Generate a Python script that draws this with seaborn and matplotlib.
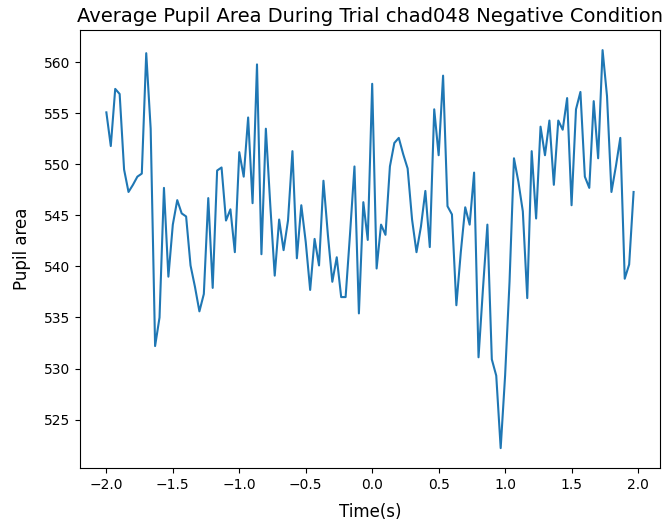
import numpy as np
import pandas as pd
import matplotlib
matplotlib.use("Agg")
import matplotlib.pyplot as plt
import seaborn as sns

# Time axis: 30 Hz samples from -2.0 s
n_samples = 120
time_s = -2.0 + np.arange(n_samples) / 30.0

pupil_area = [
    555.1, 551.8, 557.4, 556.9, 549.5, 547.3, 548.0, 548.8, 549.1, 560.9,
    553.5, 532.2, 535.0, 547.7, 539.0, 544.1, 546.5, 545.2, 544.9, 540.1,
    538.0, 535.6, 537.3, 546.7, 537.9, 549.4, 549.7, 544.5, 545.6, 541.4,
    551.2, 548.8, 554.6, 546.2, 559.8, 541.2, 553.5, 546.0, 539.1, 544.6,
    541.6, 544.5, 551.3, 540.8, 546.0, 542.4, 537.7, 542.7, 540.1, 548.4,
    543.1, 538.5, 540.9, 537.0, 537.0, 543.2, 549.8, 535.4, 546.3, 542.6,
    557.9, 539.8, 544.1, 543.1, 549.8, 552.1, 552.6, 551.0, 549.6, 544.6,
    541.4, 543.9, 547.4, 541.9, 555.4, 550.9, 558.7, 545.9, 545.1, 536.2,
    541.4, 545.8, 544.1, 549.2, 531.1, 537.8, 544.1, 530.9, 529.3, 522.2,
    529.3, 538.5, 550.6, 548.3, 545.4, 536.9, 551.3, 544.7, 553.7, 550.9,
    554.3, 548.0, 554.3, 553.4, 556.5, 546.0, 555.4, 557.1, 548.8, 547.7,
    556.2, 550.6, 561.2, 556.7, 547.3, 549.8, 552.6, 538.8, 540.2, 547.3,
]

df = pd.DataFrame({"Time(s)": time_s, "Pupil area": pupil_area})

fig = plt.figure(figsize=(6.70, 5.21), dpi=100)
ax = fig.add_axes([0.1194, 0.1017, 0.8656, 0.8403])
sns.lineplot(data=df, x="Time(s)", y="Pupil area", ax=ax,
             color="#1f77b4", linewidth=1.5)
ax.set_title("Average Pupil Area During Trial chad048 Negative Condition", fontsize=14)
ax.set_xlabel("Time(s)", fontsize=12, labelpad=8)
ax.set_ylabel("Pupil area", fontsize=12, labelpad=9)
fig.savefig("out.png", dpi=100)
